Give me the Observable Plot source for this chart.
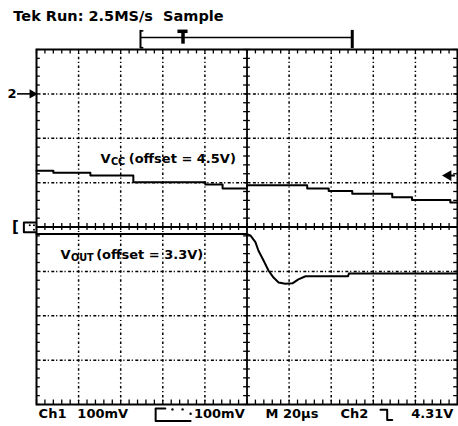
<!DOCTYPE html>
<html><head><meta charset="utf-8">
<script src="https://cdn.jsdelivr.net/npm/d3@7"></script>
<script src="https://cdn.jsdelivr.net/npm/@observablehq/plot@0.6"></script>
<style>body{margin:0;background:#fff} svg{display:block}</style>
</head><body><div id="chart"></div>
<script>
// ---- data (screen divisions: time 0..10, level -4..4) ----
const vccTime  = [0, 0.40, 1.28, 2.30, 4.01, 4.42, 5.00, 6.43, 6.94, 7.50, 8.45, 8.92, 9.83, 10];
const vccLevel = [1.27, 1.22, 1.16, 1.01, 0.96, 0.87, 0.94, 0.87, 0.81, 0.75, 0.67, 0.61, 0.55, 0.55];
const voutTime  = [0, 5.00, 5.08, 5.20, 5.27, 5.39, 5.51, 5.63, 5.75, 5.91, 6.08, 6.22, 6.39, 7.40, 7.42, 10];
const voutLevel = [-0.16, -0.16, -0.19, -0.34, -0.53, -0.75, -0.98, -1.14, -1.25, -1.28, -1.27, -1.18, -1.11, -1.11, -1.05, -1.05];
const titleText = "Tek Run: 2.5MS/s  Sample";
const readoutLabels = ["Ch1", "100mV", "100mV", "M 20µs", "Ch2", "4.31V"];
const vccLabel = ["V", "CC", "(offset = 4.5V)"];
const voutLabel = ["V", "OUT", "(offset = 3.3V)"];
const ch2Marker = "2";
const ch1Marker = "[";

// ---- layout ----
const font = "DejaVu Sans";
const gridX = [1, 2, 3, 4, 6, 7, 8, 9];
const gridY = [-3, -2, -1, 1, 2, 3];
const minorX = d3.range(0, 10.001, 0.2);
const minorY = d3.range(-4, 4.001, 0.2);
const readoutX = [0.05, 0.97, 3.74, 5.44, 7.22, 9.9];
const readoutY = -4.21;

const vcc = vccTime.map((t, i) => ({t, v: vccLevel[i]}));
const vout = voutTime.map((t, i) => ({t, v: voutLevel[i]}));
const readouts = readoutLabels.map((s, i) => ({s, x: readoutX[i]}));
const readStart = readouts.slice(0, 5);
const readEnd = readouts.slice(5);

function labelMarks(parts, x0, y0, fs) {
  const sub = fs * 0.75;
  return [
    Plot.text([parts[0]], {x: x0, y: y0, text: d => d, textAnchor: "start", fontFamily: font, fontWeight: "bold", fontSize: fs, fill: "#000"}),
    Plot.text([parts[1]], {x: x0, y: y0, text: d => d, textAnchor: "start", dx: fs * 0.8, dy: 3.5, fontFamily: font, fontWeight: "bold", fontSize: sub, fill: "#000"}),
    Plot.text([parts[2]], {x: x0, y: y0, text: d => d, textAnchor: "start", dx: fs * 0.8 + sub * 0.76 * parts[1].length + 3, fontFamily: font, fontWeight: "bold", fontSize: fs, fill: "#000"})
  ];
}

const chart = Plot.plot({
  width: 458, height: 426,
  marginLeft: 36, marginRight: 1, marginTop: 49, marginBottom: 22,
  x: {domain: [0, 10], axis: null},
  y: {domain: [-4, 4], axis: null},
  style: {background: "#fff", overflow: "visible"},
  marks: [
    // graticule
    Plot.ruleX(gridX, {stroke: "#000", strokeWidth: 1.5, strokeDasharray: "2.5,2.6,1.2,2.6", strokeDashoffset: 1.2}),
    Plot.ruleY(gridY, {stroke: "#000", strokeWidth: 1.5, strokeDasharray: "3,1.8,1.2,2.4", strokeDashoffset: 1.5}),
    Plot.ruleX([5], {stroke: "#000", strokeWidth: 1.8}),
    Plot.ruleY([0], {stroke: "#000", strokeWidth: 1.8}),
    Plot.ruleX(minorX, {y1: 4, y2: 3.9, stroke: "#000", strokeWidth: 1.3}),
    Plot.ruleX(minorX, {y1: -4, y2: -3.9, stroke: "#000", strokeWidth: 1.3}),
    Plot.ruleX(minorX, {y1: -0.08, y2: 0.08, stroke: "#000", strokeWidth: 1.3}),
    Plot.ruleY(minorY, {x1: 0, x2: 0.09, stroke: "#000", strokeWidth: 1.3}),
    Plot.ruleY(minorY, {x1: 10, x2: 9.91, stroke: "#000", strokeWidth: 1.3}),
    Plot.ruleY(minorY, {x1: 4.92, x2: 5.08, stroke: "#000", strokeWidth: 1.3}),
    Plot.frame({stroke: "#000", strokeWidth: 2}),
    // traces
    Plot.line(vcc, {x: "t", y: "v", curve: "step-after", stroke: "#000", strokeWidth: 2}),
    Plot.line(vout, {x: "t", y: "v", curve: "linear", stroke: "#000", strokeWidth: 2}),
    // record-view bracket and trigger position
    Plot.ruleY([4.27], {x1: 2.47, x2: 7.5, stroke: "#000", strokeWidth: 1.4}),
    Plot.ruleX([2.47], {y1: 4.02, y2: 4.43, stroke: "#000", strokeWidth: 2}),
    Plot.ruleY([4.42, 4.04], {x1: 2.47, x2: 2.55, stroke: "#000", strokeWidth: 1.6}),
    Plot.ruleX([7.5], {y1: 4.02, y2: 4.43, stroke: "#000", strokeWidth: 3}),
    Plot.ruleY([4.41], {x1: 3.36, x2: 3.6, stroke: "#000", strokeWidth: 3.5}),
    Plot.ruleX([3.48], {y1: 4.41, y2: 4.12, stroke: "#000", strokeWidth: 3.5}),
    // channel markers
    Plot.text([ch2Marker], {x: -0.58, y: 3, text: d => d, fontFamily: font, fontWeight: "bold", fontSize: 13, fill: "#000"}),
    Plot.ruleY([3], {x1: -0.45, x2: -0.08, stroke: "#000", strokeWidth: 1.6}),
    Plot.dot([3], {x: -0.1, y: d => d, symbol: "triangle", rotate: 90, r: 3.5, fill: "#000", stroke: "none"}),
    Plot.text([ch1Marker], {x: -0.5, y: 0, text: d => d, fontFamily: font, fontWeight: "bold", fontSize: 15, fill: "#000"}),
    Plot.line([[-0.03, 0.1], [-0.3, 0.1], [-0.3, -0.12], [-0.03, -0.12]], {x: d => d[0], y: d => d[1], stroke: "#000", strokeWidth: 2}),
    Plot.dot([[-0.16, 0.04], [-0.06, 0.04], [-0.06, -0.06]], {x: d => d[0], y: d => d[1], r: 1, fill: "#000", stroke: "none"}),
    // trigger level arrow
    Plot.dot([1.16], {x: 9.78, y: d => d, symbol: "triangle", rotate: -90, r: 4, fill: "#000", stroke: "none"}),
    Plot.ruleY([1.16], {x1: 9.78, x2: 9.95, stroke: "#000", strokeWidth: 2}),
    // trace labels
    ...labelMarks(vccLabel, 1.52, 1.54, 13),
    ...labelMarks(voutLabel, 0.57, -0.62, 13),
    // title and readout
    Plot.text([titleText], {x: -0.55, y: 4.74, text: d => d, textAnchor: "start", fontFamily: font, fontWeight: "bold", fontSize: 14.5, fill: "#000"}),
    Plot.text(readStart, {x: "x", y: readoutY, text: "s", textAnchor: "start", fontFamily: font, fontWeight: "bold", fontSize: 13, fill: "#000"}),
    Plot.text(readEnd, {x: "x", y: readoutY, text: "s", textAnchor: "end", fontFamily: font, fontWeight: "bold", fontSize: 13, fill: "#000"}),
    Plot.line([[3.66, -4.37], [2.83, -4.37], [2.83, -4.09], [3.06, -4.09]], {x: d => d[0], y: d => d[1], stroke: "#000", strokeWidth: 2}),
    Plot.dot([[3.23, -4.11], [3.47, -4.11], [3.66, -4.21]], {x: d => d[0], y: d => d[1], r: 1.2, fill: "#000", stroke: "none"}),
    Plot.line([[8.17, -4.12], [8.33, -4.12], [8.33, -4.35], [8.45, -4.35]], {x: d => d[0], y: d => d[1], stroke: "#000", strokeWidth: 2})
  ]
});
document.getElementById("chart").append(chart);
</script></body></html>
